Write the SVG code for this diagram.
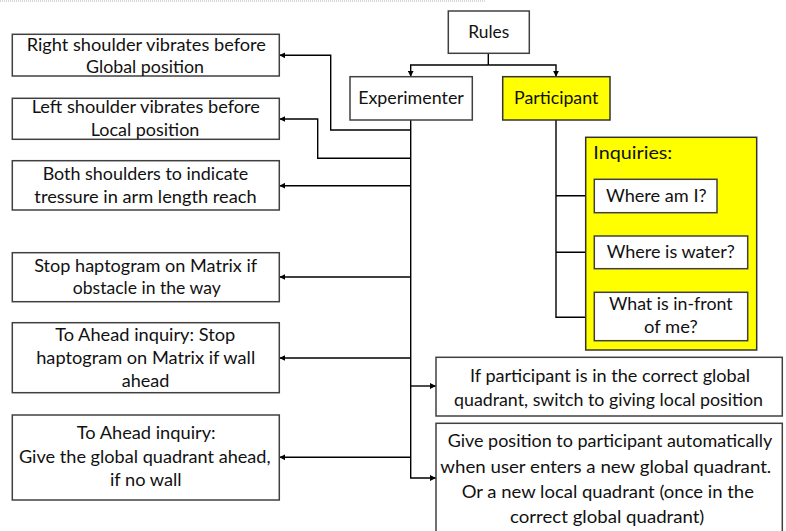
<svg xmlns="http://www.w3.org/2000/svg" width="786" height="531" viewBox="0 0 786 531">
  <style>
    .box { fill: #ffffff; stroke: #404040; stroke-width: 1.5; }
    .yellow { fill: #ffff00; stroke: #333333; stroke-width: 1.5; }
    .lbl { font-family: Lato, "Open Sans", sans-serif; font-size: 17px; fill: #111111; text-anchor: middle; }
    .lft { text-anchor: start; }
    .wire { fill: none; stroke: #000000; stroke-width: 1.4; }
  </style>
  <defs>
    <marker id="arrow" viewBox="0 0 8 8" refX="8" refY="4" markerWidth="6" markerHeight="6" markerUnits="userSpaceOnUse" orient="auto">
      <path d="M0,0 L8,4 L0,8 Z" fill="#000000"/>
    </marker>
  </defs>

  <rect width="786" height="531" fill="#ffffff"/>
  <!-- page edge rule -->
  <line x1="0" y1="1" x2="485" y2="1" stroke="#b0b0b0" stroke-width="1" stroke-dasharray="1 1"/>

  <!-- connectors -->
  <g id="connectors" class="wire">
    <path d="M488.3,53.3 V65"/>
    <path d="M488.3,65 H410.7 V76.7" marker-end="url(#arrow)"/>
    <path d="M488.3,65 H556 V76.7" marker-end="url(#arrow)"/>
    <path d="M410.7,120 V478 H436" marker-end="url(#arrow)"/>
    <path d="M410.7,130 H330.7 V55.3 H279.3" marker-end="url(#arrow)"/>
    <path d="M410.7,158.3 H317.7 V119 H279.3" marker-end="url(#arrow)"/>
    <path d="M410.7,185.7 H279.3" marker-end="url(#arrow)"/>
    <path d="M410.7,277 H279.3" marker-end="url(#arrow)"/>
    <path d="M410.7,358 H279.3" marker-end="url(#arrow)"/>
    <path d="M410.7,457.3 H279.3" marker-end="url(#arrow)"/>
    <path d="M410.7,386 H436" marker-end="url(#arrow)"/>
    <path d="M556,120 V317.3 H594.3" marker-end="url(#arrow)"/>
    <path d="M556,195.7 H594.3" marker-end="url(#arrow)"/>
    <path d="M556,252.3 H594.3" marker-end="url(#arrow)"/>
  </g>

  <g id="rules">
    <rect class="box" x="448.3" y="11" width="81" height="42.3"/>
    <text class="lbl" x="488.8" y="38.3" textLength="41" lengthAdjust="spacingAndGlyphs">Rules</text>
  </g>

  <g id="experimenter">
    <rect class="box" x="350" y="76.7" width="122.3" height="43.3"/>
    <text class="lbl" x="411" y="104.3" textLength="105.7" lengthAdjust="spacingAndGlyphs">Experimenter</text>
  </g>

  <g id="participant">
    <rect class="yellow" x="502.7" y="76.7" width="107.3" height="43.3"/>
    <text class="lbl" x="556.2" y="104.3" textLength="84.3" lengthAdjust="spacingAndGlyphs">Participant</text>
  </g>

  <g id="inquiries">
    <rect class="yellow" x="585.7" y="137.3" width="171" height="212.7"/>
    <text class="lbl lft" x="593.3" y="159.3" textLength="79" lengthAdjust="spacingAndGlyphs">Inquiries:</text>
  </g>

  <g id="where-am-i">
    <rect class="box" x="594.3" y="179.3" width="122.7" height="33.4"/>
    <text class="lbl" x="656.3" y="201.7" textLength="100.7" lengthAdjust="spacingAndGlyphs">Where am I?</text>
  </g>

  <g id="where-is-water">
    <rect class="box" x="594.3" y="236" width="153.4" height="32.7"/>
    <text class="lbl" x="670.8" y="258.3" textLength="128.3" lengthAdjust="spacingAndGlyphs">Where is water?</text>
  </g>

  <g id="what-is-in-front">
    <rect class="box" x="594.3" y="292.3" width="153.4" height="48.4"/>
    <text class="lbl" x="670.8" y="310" textLength="123.7" lengthAdjust="spacingAndGlyphs">What is in-front</text>
    <text class="lbl" x="670.8" y="333.3" textLength="53.7" lengthAdjust="spacingAndGlyphs">of me?</text>
  </g>

  <g id="right-shoulder">
    <rect class="box" x="12.3" y="34.3" width="267" height="41.7"/>
    <text class="lbl" x="146.3" y="50.7" textLength="239.3" lengthAdjust="spacingAndGlyphs">Right shoulder vibrates before</text>
    <text class="lbl" x="145" y="73.3" textLength="118" lengthAdjust="spacingAndGlyphs">Global position</text>
  </g>

  <g id="left-shoulder">
    <rect class="box" x="12.3" y="98.3" width="267" height="41"/>
    <text class="lbl" x="145.8" y="113.3" textLength="228.3" lengthAdjust="spacingAndGlyphs">Left shoulder vibrates before</text>
    <text class="lbl" x="145" y="136" textLength="108.7" lengthAdjust="spacingAndGlyphs">Local position</text>
  </g>

  <g id="both-shoulders">
    <rect class="box" x="12.3" y="160.7" width="267" height="49.3"/>
    <text class="lbl" x="145.5" y="180" textLength="205.7" lengthAdjust="spacingAndGlyphs">Both shoulders to indicate</text>
    <text class="lbl" x="145.5" y="202.7" textLength="222.3" lengthAdjust="spacingAndGlyphs">tressure in arm length reach</text>
  </g>

  <g id="stop-obstacle">
    <rect class="box" x="12.3" y="252.7" width="267" height="49"/>
    <text class="lbl" x="145.7" y="271.7" textLength="223" lengthAdjust="spacingAndGlyphs">Stop haptogram on Matrix if</text>
    <text class="lbl" x="146.8" y="294.3" textLength="148" lengthAdjust="spacingAndGlyphs">obstacle in the way</text>
  </g>

  <g id="ahead-stop">
    <rect class="box" x="12.3" y="322.7" width="267" height="70"/>
    <text class="lbl" x="145.2" y="341" textLength="180" lengthAdjust="spacingAndGlyphs">To Ahead inquiry: Stop</text>
    <text class="lbl" x="145.7" y="364" textLength="219" lengthAdjust="spacingAndGlyphs">haptogram on Matrix if wall</text>
    <text class="lbl" x="145.5" y="387.3" textLength="47.6" lengthAdjust="spacingAndGlyphs">ahead</text>
  </g>

  <g id="ahead-quadrant">
    <rect class="box" x="12.3" y="415" width="267" height="85"/>
    <text class="lbl" x="146.2" y="439.3" textLength="139" lengthAdjust="spacingAndGlyphs">To Ahead inquiry:</text>
    <text class="lbl" x="144.8" y="462.7" textLength="251.7" lengthAdjust="spacingAndGlyphs">Give the global quadrant ahead,</text>
    <text class="lbl" x="145.8" y="486" textLength="71.7" lengthAdjust="spacingAndGlyphs">if no wall</text>
  </g>

  <g id="switch-local">
    <rect class="box" x="436" y="357.3" width="346.3" height="58.7"/>
    <text class="lbl" x="610" y="382" textLength="280" lengthAdjust="spacingAndGlyphs">If participant is in the correct global</text>
    <text class="lbl" x="608.5" y="405.5" textLength="309" lengthAdjust="spacingAndGlyphs">quadrant, switch to giving local position</text>
  </g>

  <g id="auto-position">
    <rect class="box" x="436" y="423.3" width="346.3" height="120"/>
    <text class="lbl" x="610" y="446.7" textLength="324.7" lengthAdjust="spacingAndGlyphs">Give position to participant automatically</text>
    <text class="lbl" x="605.8" y="472.7" textLength="331" lengthAdjust="spacingAndGlyphs">when user enters a new global quadrant.</text>
    <text class="lbl" x="607.8" y="498.3" textLength="292.3" lengthAdjust="spacingAndGlyphs">Or a new local quadrant (once in the</text>
    <text class="lbl" x="607.2" y="522.7" textLength="194.3" lengthAdjust="spacingAndGlyphs">correct global quadrant)</text>
  </g>
</svg>
